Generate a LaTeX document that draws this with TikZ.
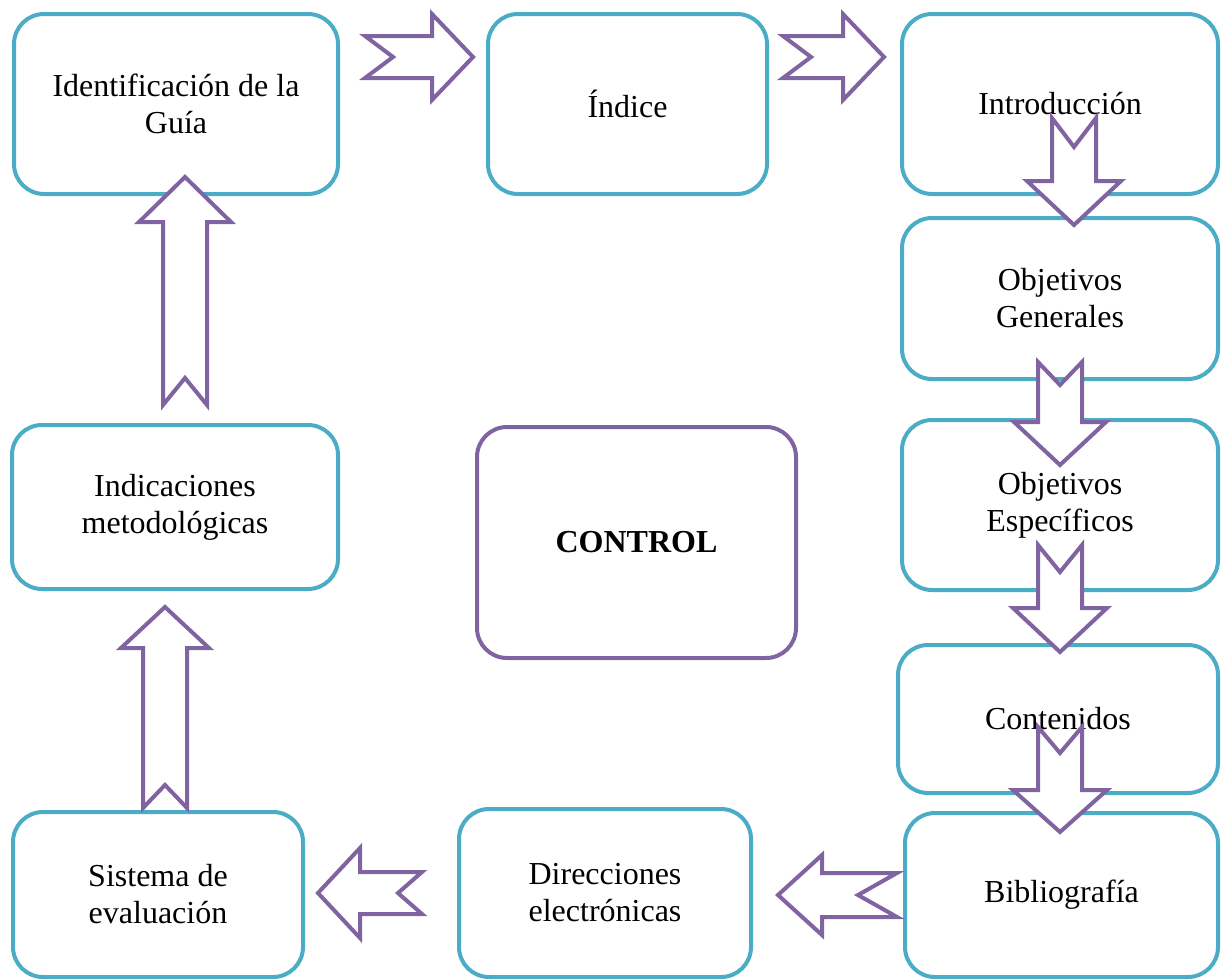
\documentclass[tikz,border=0pt]{standalone}
\usepackage{fontspec}
\setmainfont{Liberation Serif}
\definecolor{teal}{HTML}{4BACC6}
\definecolor{purp}{HTML}{8064A2}
\newcommand{\varrowblk}[7]{%
 \draw[blk] (#1-#2,#4) -- (#1,#5) -- (#1+#2,#4) -- (#1+#2,#6) -- (#1+#3,#6) -- (#1,#7) -- (#1-#3,#6) -- (#1-#2,#6) -- cycle;}
\newcommand{\harrowblk}[7]{%
 \draw[blk] (#4,#1-#2) -- (#5,#1) -- (#4,#1+#2) -- (#6,#1+#2) -- (#6,#1+#3) -- (#7,#1) -- (#6,#1-#3) -- (#6,#1-#2) -- cycle;}
\begin{document}
\begin{tikzpicture}[x=0.5pt,y=-0.5pt,
  box/.style={draw=teal,line width=2pt,rounded corners=15pt,fill=white,align=center,
    font=\fontsize{16}{18.5}\selectfont,inner sep=0pt},
  ctl/.style={box,draw=purp},
  blk/.style={draw=purp,line width=2pt,fill=white,line join=miter}]
\useasboundingbox (0,0) rectangle (1221,980);
\node[box,minimum width=324pt*0.5,minimum height=180pt*0.5] (ident) at (176,104) {Identificación de la\\Guía};
\node[box,minimum width=279pt*0.5,minimum height=180pt*0.5] (indice) at (627.5,104) {Índice};
\node[box,minimum width=316pt*0.5,minimum height=180pt*0.5] (intro) at (1060,104) {Introducción};
\node[box,minimum width=316pt*0.5,minimum height=161pt*0.5] (objgen) at (1060,298.5) {Objetivos\\Generales};
\node[box,minimum width=316pt*0.5,minimum height=170pt*0.5] (objesp) at (1060,505) {Objetivos\\Específicos};
\node[box,minimum width=320pt*0.5,minimum height=148pt*0.5] (cont) at (1058,719) {Contenidos};
\node[box,minimum width=313pt*0.5,minimum height=164pt*0.5] (biblio) at (1061.5,895) {Bibliografía};
\node[box,minimum width=292pt*0.5,minimum height=168pt*0.5] (dir) at (605,893) {Direcciones\\electrónicas};
\node[box,minimum width=290pt*0.5,minimum height=165pt*0.5] (sis) at (158,894.5) {Sistema de\\evaluación};
\node[box,minimum width=326pt*0.5,minimum height=164pt*0.5] (indic) at (175,507) {Indicaciones\\metodológicas};
\node[ctl,minimum width=319pt*0.5,minimum height=231pt*0.5,font=\fontsize{16}{18.5}\selectfont\bfseries] (control) at (636.5,542.5) {CONTROL};
% block arrows
\harrowblk{57}{21}{43}{365}{393}{432}{473}
\harrowblk{57}{21}{43}{783}{811}{843}{884}
\varrowblk{1074}{22}{47}{118}{147}{181}{225}
\varrowblk{1060}{22}{46}{362}{385}{422}{465}
\varrowblk{1060}{22}{47}{545}{572}{608}{652}
\varrowblk{1060}{22}{47}{727}{753}{790}{832}
\harrowblk{895}{22}{40}{897}{858}{822}{778}
\harrowblk{893}{21}{45}{422}{398}{360}{318}
\varrowblk{165}{22}{44}{808}{785}{648}{607}
\varrowblk{185}{22}{46}{405}{378}{222}{177}
\end{tikzpicture}
\end{document}
